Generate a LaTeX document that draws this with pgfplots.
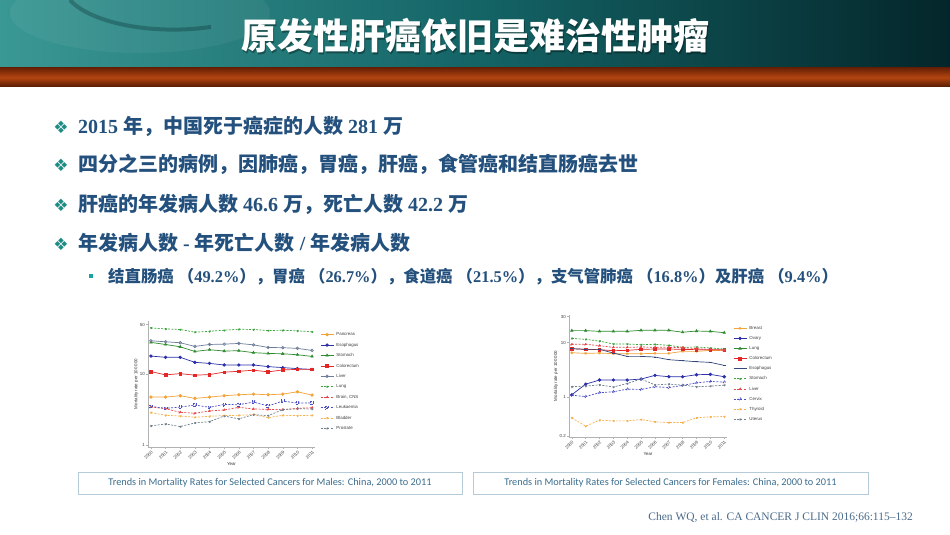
\documentclass[border=0pt]{standalone}
\usepackage{fontspec}
\usepackage{pgfplots}
\usepackage{pgfplotstable}
\pgfplotsset{compat=1.18}
\setmainfont{Liberation Serif}
\setsansfont{Liberation Sans}
\newfontfamily\cjk{Noto Sans CJK SC}
\newfontfamily\sym{DejaVu Sans}
\newfontfamily\capfont{Carlito}

% page colours
\definecolor{tealA}{HTML}{3A9894}
\definecolor{tealB}{HTML}{146466}
\definecolor{tealC}{HTML}{04262A}
\definecolor{rustA}{HTML}{6A2106}
\definecolor{rustB}{HTML}{B3450F}
\definecolor{bodyblue}{HTML}{23507C}
\definecolor{bulletc}{HTML}{1F8C84}
\definecolor{capblue}{HTML}{3C6D8E}
\definecolor{capbox}{HTML}{B5CCD8}
\definecolor{citeblue}{HTML}{4B6B8A}
% series colours
\definecolor{cOrange}{HTML}{F2A33A}
\definecolor{cBlue}{HTML}{2B2FA8}
\definecolor{cGreen}{HTML}{2E8B2E}
\definecolor{cRed}{HTML}{E32626}
\definecolor{cSlate}{HTML}{6D7D99}
\definecolor{cLGreen}{HTML}{3DA33D}
\definecolor{cLRed}{HTML}{E5484B}
\definecolor{cLBlue}{HTML}{4B4FC4}
\definecolor{cLOrange}{HTML}{F4B14E}
\definecolor{cGrey}{HTML}{70808E}
\definecolor{cNavy}{HTML}{34477A}

\newcommand\zh[1]{{\cjk\bfseries #1}}
\newcommand\tinyfont{\sffamily\fontsize{4.4}{4.7}\selectfont}

% mortality per 100 000 (log scale)
\pgfplotstableread{
year Pancreas Esophagus Stomach Colorectum Liver Lung Brain Leuk Bladder Prostate
2000 4.78 18.0 28.0 10.9 29.5 44.8 3.46 3.54 2.89 1.88
2001 4.78 17.3 26.2 9.8  28.6 43.4 3.28 3.32 2.65 2.00
2002 4.99 17.3 24.3 10.2 27.7 42.5 2.92 3.46 2.59 1.84
2003 4.58 14.7 20.9 9.7  24.6 39.0 2.83 3.69 2.49 2.07
2004 4.78 14.2 22.1 9.9  26.2 40.2 3.05 3.43 2.57 2.16
2005 4.99 13.5 21.2 10.7 26.5 41.5 3.15 3.77 2.62 2.59
2006 5.15 13.5 21.4 11.0 27.1 42.9 3.43 3.73 2.65 2.36
2007 5.26 13.5 20.1 11.4 25.9 42.5 3.25 4.07 2.71 2.71
2008 5.15 12.8 19.6 10.8 23.8 41.1 3.21 3.58 2.46 2.62
2009 5.26 12.4 19.4 11.5 23.6 41.5 3.18 4.20 2.65 3.18
2010 5.67 12.0 18.8 11.7 23.1 40.7 3.32 3.94 2.62 3.28
2011 5.09 11.7 17.8 11.7 21.6 39.4 3.39 3.94 2.65 3.25
}\males

\pgfplotstableread{
year Breast Ovary Lung Colorectum Esophagus Stomach Liver Cervix Thyroid Uterus
2000 6.56 1.12 16.6 7.77 7.77 12.0 9.33 1.10 0.425 1.57
2001 6.38 1.75 16.6 7.55 7.55 11.5 9.33 1.04 0.299 1.61
2002 6.47 2.08 16.1 7.45 7.55 10.7 8.81 1.22 0.385 1.70
2003 6.29 2.08 16.1 7.14 6.47 9.45 8.22 1.27 0.374 1.55
2004 6.29 2.08 16.1 7.24 5.62 9.45 8.22 1.42 0.374 1.80
2005 6.29 2.17 16.8 7.55 5.62 9.19 8.34 1.40 0.396 2.17
2006 6.38 2.53 16.8 7.66 5.47 9.33 8.22 1.57 0.359 1.70
2007 6.38 2.39 16.8 7.66 4.89 8.94 8.22 1.52 0.349 1.75
2008 6.94 2.39 15.5 7.55 4.69 8.22 8.11 1.66 0.349 1.68
2009 6.94 2.60 16.3 7.45 4.49 8.34 7.77 1.85 0.425 1.57
2010 7.24 2.64 16.1 7.45 4.37 7.99 7.55 1.96 0.443 1.61
2011 7.14 2.39 15.2 7.45 3.85 7.66 7.24 1.91 0.449 1.68
}\females

\pgfplotsset{
  chart/.style={
    scale only axis, axis lines*=left,
    axis line style={gray!60, line width=0.4pt},
    tick style={gray!60, line width=0.4pt},
    tick align=outside, major tick length=2pt, yminorticks=false,
    xmin=1999.8, xmax=2011.2,
    xtick={2000,2001,2002,2003,2004,2005,2006,2007,2008,2009,2010,2011},
    xticklabels={2000,2001,2002,2003,2004,2005,2006,2007,2008,2009,2010,2011},
    xticklabel style={rotate=45, anchor=north east, font=\tinyfont, inner sep=0.8pt, text=black!75},
    yticklabel style={font=\tinyfont, inner sep=1pt, text=black!75},
    xlabel={Year}, ylabel={Mortality rate per 100 000},
    label style={font=\tinyfont, text=black!80},
    xlabel style={yshift=2pt},
    ylabel style={yshift=-3pt},
    every axis plot/.append style={line width=0.7pt, mark size=1.3pt},
    legend image code/.code={\draw[mark repeat=2,mark phase=2,##1] plot coordinates {(0pt,0pt) (6.5pt,0pt) (13pt,0pt)};},
    legend style={draw=none, fill=none, font=\tinyfont, anchor=north west,
      inner sep=0pt, nodes={inner sep=0pt, text height=3.3pt, text depth=1pt, text=black!75},
      /tikz/every odd column/.append style={column sep=2.5pt}},
    legend cell align=left,
  },
}
\tikzset{dsh/.style={dash pattern=on 2pt off 1.4pt}}

\begin{document}
\begin{tikzpicture}[x=1pt,y=1pt]
% page
\fill[white] (0,0) rectangle (950,535);
% header band
\shade[left color=tealA, right color=tealC, middle color=tealB] (0,467) rectangle (950,535);
\fill[white, opacity=0.05] (140,522) ellipse (130 and 40);
\draw[tealC, opacity=0.3, line width=4pt] (70,535) arc (200:290:110 and 45);
\shade[top color=rustA, bottom color=rustA!80!black, middle color=rustB] (0,448) rectangle (950,467);
\node[text=black, opacity=0.35, font=\cjk\bfseries\fontsize{36}{36}\selectfont] at (476.5,497.5) {原发性肝癌依旧是难治性肿瘤};
\node[text=white, font=\cjk\bfseries\fontsize{36}{36}\selectfont] at (475,499) {原发性肝癌依旧是难治性肿瘤};

% bullets
\begin{scope}[every node/.style={text=bodyblue, inner sep=0pt}]
\node[anchor=base west, font=\bfseries\fontsize{20}{20}\selectfont] at (78,401)
  {2015 \zh{年，中国死于癌症的人数} 281 \zh{万}};
\node[anchor=base west, font=\bfseries\fontsize{20}{20}\selectfont] at (78,363)
  {\zh{四分之三的病例，因肺癌，胃癌，肝癌，食管癌和结直肠癌去世}};
\node[anchor=base west, font=\bfseries\fontsize{20}{20}\selectfont] at (78,323)
  {\zh{肝癌的年发病人数} 46.6 \zh{万，死亡人数} 42.2 \zh{万}};
\node[anchor=base west, font=\bfseries\fontsize{20}{20}\selectfont] at (78,284)
  {\zh{年发病人数} - \zh{年死亡人数} / \zh{年发病人数}};
\node[anchor=base west, font=\bfseries\fontsize{16.4}{16.4}\selectfont] at (108,252)
  {\zh{结直肠癌} \zh{（}49.2\%\zh{），胃癌} \zh{（}26.7\%\zh{），食道癌} \zh{（}21.5\%\zh{），支气管肺癌} \zh{（}16.8\%\zh{）及肝癌} \zh{（}9.4\%\zh{）}};
\end{scope}
\foreach \yy in {408,370,330,291}
  \node[text=bulletc, font=\sym\fontsize{17}{17}\selectfont, inner sep=0pt] at (61,\yy) {❖};
\fill[bulletc!80!cyan] (88.5,256.5) rectangle (93,261);

% males
\begin{axis}[chart, ymode=log, at={(148pt,88pt)}, anchor=south west, width=167pt, height=126pt,
  ymin=0.95, ymax=56, ytick={1,10,50}, yticklabels={1,10,50},
  legend style={at={(rel axis cs:1.03,0.91)}, row sep=6.1pt}]
\addplot[cOrange, mark=*] table[x=year,y=Pancreas]{\males};\addlegendentry{Pancreas}
\addplot[cBlue, mark=*] table[x=year,y=Esophagus]{\males};\addlegendentry{Esophagus}
\addplot[cGreen, mark=triangle*] table[x=year,y=Stomach]{\males};\addlegendentry{Stomach}
\addplot[cRed, mark=square*] table[x=year,y=Colorectum]{\males};\addlegendentry{Colorectum}
\addplot[cSlate, mark=o] table[x=year,y=Liver]{\males};\addlegendentry{Liver}
\addplot[cLGreen, dsh, mark=asterisk] table[x=year,y=Lung]{\males};\addlegendentry{Lung}
\addplot[cLRed, dsh, mark=triangle*] table[x=year,y=Brain]{\males};\addlegendentry{Brain, CNS}
\addplot[cLBlue, dsh, mark=square] table[x=year,y=Leuk]{\males};\addlegendentry{Leukaemia}
\addplot[cLOrange, dsh, mark=asterisk] table[x=year,y=Bladder]{\males};\addlegendentry{Bladder}
\addplot[cGrey, dsh, mark=asterisk] table[x=year,y=Prostate]{\males};\addlegendentry{Prostate}
\end{axis}

% females
\begin{axis}[chart, ymode=log, at={(569pt,98pt)}, anchor=south west, width=158pt, height=122pt,
  ymin=0.19, ymax=32, ytick={0.2,1,10,30}, yticklabels={0.2,1,10,30},
  legend style={at={(rel axis cs:1.038,0.91)}, row sep=5.8pt}]
\addplot[cOrange, mark=asterisk] table[x=year,y=Breast]{\females};\addlegendentry{Breast}
\addplot[cBlue, mark=*] table[x=year,y=Ovary]{\females};\addlegendentry{Ovary}
\addplot[cGreen, mark=triangle*] table[x=year,y=Lung]{\females};\addlegendentry{Lung}
\addplot[cRed, mark=square*] table[x=year,y=Colorectum]{\females};\addlegendentry{Colorectum}
\addplot[cNavy, mark=-] table[x=year,y=Esophagus]{\females};\addlegendentry{Esophagus}
\addplot[cLGreen, dsh, mark=asterisk] table[x=year,y=Stomach]{\females};\addlegendentry{Stomach}
\addplot[cLRed, dsh, mark=triangle*] table[x=year,y=Liver]{\females};\addlegendentry{Liver}
\addplot[cLBlue, dsh, mark=o] table[x=year,y=Cervix]{\females};\addlegendentry{Cervix}
\addplot[cLOrange, dsh, mark=asterisk] table[x=year,y=Thyroid]{\females};\addlegendentry{Thyroid}
\addplot[cGrey, dsh, mark=asterisk] table[x=year,y=Uterus]{\females};\addlegendentry{Uterus}
\end{axis}

% captions
\draw[capbox, line width=0.7pt] (78,41) rectangle (462,63);
\node[text=capblue, font=\capfont\fontsize{10.3}{11}\selectfont] at (270,52)
  {Trends in Mortality Rates for Selected Cancers for Males: China, 2000 to 2011};
\draw[capbox, line width=0.7pt] (473,41) rectangle (868,63);
\node[text=capblue, font=\capfont\fontsize{10.3}{11}\selectfont] at (670.5,52)
  {Trends in Mortality Rates for Selected Cancers for Females: China, 2000 to 2011};
\node[anchor=base east, text=citeblue, inner sep=0pt, font=\fontsize{11.5}{12}\selectfont] at (913,14)
  {Chen WQ, et al. CA CANCER J CLIN 2016;66:115--132};

\pgfresetboundingbox
\path[use as bounding box] (0,0) rectangle (950,535);
\end{tikzpicture}
\end{document}
